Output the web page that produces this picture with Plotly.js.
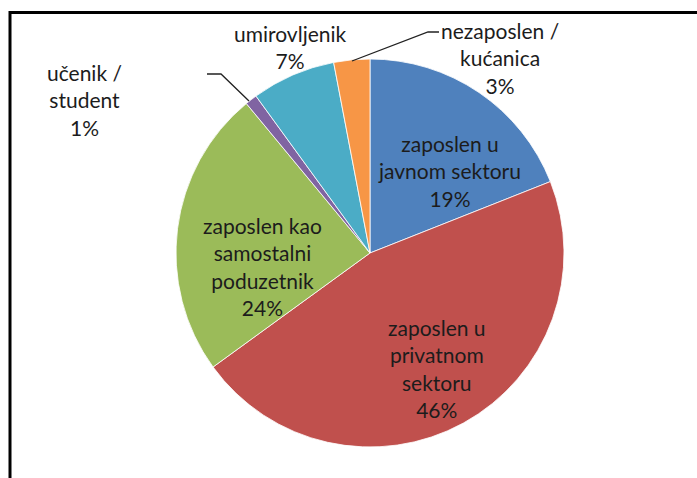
<!DOCTYPE html>
<html>
<head>
<meta charset="utf-8">
<script src="https://cdn.plot.ly/plotly-3.0.1.min.js"></script>
<style>html,body{margin:0;padding:0;background:#fff;}#chart{width:697px;height:478px;}</style>
</head>
<body>
<div id="chart"></div>
<script>
const categories = [
  "zaposlen u<br>javnom sektoru",
  "zaposlen u<br>privatnom<br>sektoru",
  "zaposlen kao<br>samostalni<br>poduzetnik",
  "učenik /<br>student",
  "umirovljenik",
  "nezaposlen /<br>kućanica"
];
const values = [19, 46, 24, 1, 7, 3];
const colors = ["#4F81BD", "#C0504D", "#9BBB59", "#8064A2", "#4BACC6", "#F79646"];

const W = 697, H = 478;
const cx = 370, cy = 253, R = 194;
const px = x => x / W;
const py = y => 1 - y / H;

// label centres (pixels) for each slice
const labelPos = [[449, 171], [437, 368], [262, 266], [84, 100], [290, 47], [500, 58]];

const trace = {
  type: "pie",
  values: values,
  labels: categories,
  sort: false,
  direction: "clockwise",
  rotation: 0,
  textinfo: "none",
  hoverinfo: "label+percent",
  marker: {colors: colors, line: {color: "#ffffff", width: 0.8}},
  domain: {x: [px(cx - R), px(cx + R)], y: [py(cy + R), py(cy - R)]},
  showlegend: false
};

const annotations = categories.map((c, i) => ({
  xref: "paper", yref: "paper",
  x: px(labelPos[i][0]), y: py(labelPos[i][1]),
  xanchor: "center", yanchor: "middle",
  text: c + "<br>" + values[i] + "%",
  showarrow: false,
  align: "center",
  font: {family: "Lato, 'Open Sans', sans-serif", size: 21, color: "#1c1c1c"}
}));

function pathFrom(pts) {
  return pts.map((p, i) => (i ? "L" : "M") + px(p[0]) + "," + py(p[1])).join(" ");
}

const shapes = [
  {type: "rect", xref: "paper", yref: "paper",
   x0: px(10), x1: px(720), y0: py(500), y1: py(12.5),
   line: {color: "#000", width: 3}, fillcolor: "rgba(0,0,0,0)"},
  {type: "path", xref: "paper", yref: "paper",
   path: pathFrom([[207, 74], [221, 74], [249, 101]]),
   line: {color: "#222", width: 1.3}},
  {type: "path", xref: "paper", yref: "paper",
   path: pathFrom([[439, 32], [428, 32], [352, 61]]),
   line: {color: "#222", width: 1.3}}
];

const layout = {
  width: W, height: H,
  margin: {l: 0, r: 0, t: 0, b: 0},
  paper_bgcolor: "#ffffff",
  plot_bgcolor: "#ffffff",
  annotations: annotations,
  shapes: shapes,
  showlegend: false
};

Plotly.newPlot("chart", [trace], layout, {displayModeBar: false, staticPlot: true});
</script>
</body>
</html>
